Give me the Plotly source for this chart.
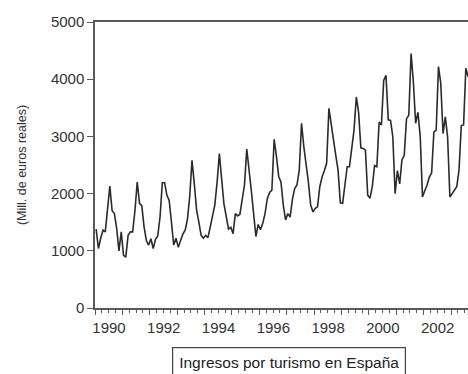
import plotly.graph_objects as go

# Monthly values (Mill. de euros reales), Jan..Dec of each year
v1990 = [1380, 1040, 1220, 1360, 1330, 1760, 2130, 1700, 1650, 1390, 1000, 1330]
v1991 = [920, 890, 1270, 1330, 1330, 1700, 2200, 1830, 1790, 1420, 1180, 1100]
v1992 = [1210, 1040, 1200, 1260, 1590, 2190, 2190, 1970, 1880, 1500, 1100, 1220]
v1993 = [1060, 1180, 1290, 1360, 1550, 1950, 2580, 2180, 1720, 1500, 1270, 1220]
v1994 = [1270, 1230, 1420, 1600, 1800, 2200, 2700, 2250, 1820, 1600, 1380, 1410]
v1995 = [1300, 1650, 1610, 1640, 1880, 2150, 2780, 2350, 2050, 1650, 1250, 1460]
v1996 = [1370, 1480, 1650, 1910, 2020, 2060, 2950, 2650, 2300, 2200, 1800, 1540]
v1997 = [1650, 1590, 1900, 2090, 2150, 2410, 3230, 2820, 2550, 2200, 1800, 1680]
v1998 = [1740, 1770, 2120, 2290, 2400, 2530, 3490, 3200, 2880, 2670, 2410, 1840]
v1999 = [1830, 2150, 2470, 2470, 2820, 3110, 3690, 3420, 2800, 2790, 2760, 1970]
v2000 = [1920, 2120, 2490, 2470, 3250, 3200, 3980, 4070, 3290, 3280, 2990, 2000]
v2001 = [2400, 2170, 2590, 2670, 3310, 3370, 4450, 3950, 3230, 3420, 3000, 1940]
v2002 = [2050, 2150, 2290, 2360, 3080, 3110, 4220, 3930, 3050, 3340, 2990, 1940]
v2003 = [2000, 2060, 2120, 2410, 3190, 3200, 4190, 4040]

years = list(range(1990, 2004))
year_values = [v1990, v1991, v1992, v1993, v1994, v1995, v1996,
               v1997, v1998, v1999, v2000, v2001, v2002, v2003]

x_label_years = [1990, 1992, 1994, 1996, 1998, 2000, 2002]
y_ticks = [0, 1000, 2000, 3000, 4000, 5000]
series_name = "Ingresos por turismo en España"
y_title = "(Mill. de euros reales)"

# Build time axis: mid-month positions in decimal years
xs, ys = [], []
for yr, vals in zip(years, year_values):
    for m, v in enumerate(vals):
        xs.append(yr + (m + 0.5) / 12.0)
        ys.append(v)

year_ticks = list(range(1990, 2004))
year_text = [str(y) if y in x_label_years else "" for y in year_ticks]
quarter_ticks = [y + q / 4.0 for y in range(1990, 2004) for q in range(1, 4)]

FONT = "Liberation Sans, Arial, sans-serif"
AXC = "#5a5a5a"

fig = go.Figure()
fig.add_trace(go.Scatter(x=xs, y=ys, mode="lines",
                         line=dict(color="#2b2b2b", width=1.6),
                         showlegend=False, name=series_name))

fig.update_layout(
    width=468, height=374,
    margin=dict(l=95, r=0, t=22, b=66),
    paper_bgcolor="white", plot_bgcolor="white",
    font=dict(family=FONT, size=15, color="#333333"),
    showlegend=False,
    xaxis=dict(
        range=[1990.0, 2003.62],
        tickmode="array", tickvals=year_ticks, ticktext=year_text,
        ticklabelshift=14,
        ticks="outside", ticklen=5, tickwidth=1.2, tickcolor=AXC,
        minor=dict(tickmode="array", tickvals=quarter_ticks, ticks="outside",
                   ticklen=3, tickwidth=1, tickcolor=AXC),
        showline=True, linecolor=AXC, linewidth=1.5, mirror=True,
        showgrid=False, zeroline=False,
        tickfont=dict(family=FONT, size=15, color="#333333"),
    ),
    yaxis=dict(
        range=[0, 5000],
        tickmode="array", tickvals=y_ticks,
        ticks="outside", ticklen=6, tickwidth=1.2, tickcolor=AXC,
        showline=True, linecolor=AXC, linewidth=1.5,
        showgrid=False, zeroline=False,
        tickfont=dict(family=FONT, size=15, color="#333333"),
        title=dict(text=y_title, font=dict(family=FONT, size=12.5, color="#333333"),
                   standoff=22),
    ),
)

fig.add_annotation(
    text=series_name, xref="paper", yref="paper",
    x=(288.9 - 95) / 373.0, y=-(362 - 308) / 286.0,
    xanchor="center", yanchor="middle", showarrow=False,
    font=dict(family=FONT, size=15.5, color="#222222"),
    bordercolor="#444444", borderwidth=1.2, borderpad=6,
    bgcolor="white",
)

fig.write_html("out.html")
